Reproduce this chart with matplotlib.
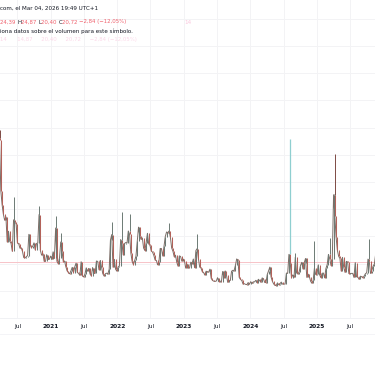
import pandas as pd
import matplotlib
matplotlib.use("Agg")
import matplotlib.pyplot as plt
import matplotlib.dates as mdates

# weekly closes (Friday), first value = week of 2020-03-13
closes_2020 = [57.83, 66.04, 65.54, 46.80, 41.67, 38.15, 35.93, 37.19, 27.98, 31.89,
               28.16, 27.51, 24.52, 36.09, 35.12, 34.73, 27.68, 27.29, 25.68, 25.84,
               24.46, 22.21, 22.05, 22.54, 22.96, 30.75, 26.87, 25.83, 26.38, 27.63,
               25.00, 27.41, 27.55, 38.02, 24.86, 23.10, 23.70, 20.84, 20.79, 23.31,
               21.57, 21.53, 22.75]
closes_2021 = [21.56, 24.34, 21.91, 33.09, 20.87, 19.97, 22.05, 27.95, 24.66, 20.69,
               20.95, 18.86, 17.33, 16.69, 16.25, 17.33, 18.61, 16.69, 18.81, 20.15,
               16.76, 16.42, 15.65, 20.70, 15.62, 15.07, 16.18, 18.45, 17.20, 18.24,
               16.15, 15.45, 18.56, 16.39, 16.41, 20.95, 20.81, 17.75, 21.15, 18.77,
               16.30, 15.43, 16.26, 16.48, 16.29, 17.91, 28.62, 30.67, 18.69, 21.57,
               17.96, 17.22]
closes_2022 = [18.76, 19.19, 28.85, 27.66, 23.22, 27.36, 27.75, 27.59, 31.98, 30.75,
               23.87, 20.81, 19.63, 21.16, 22.70, 28.21, 33.40, 30.19, 28.87, 29.43,
               25.72, 24.79, 27.75, 31.13, 27.23, 26.70, 24.64, 24.23, 23.03, 21.33,
               21.15, 19.53, 20.60, 25.56, 25.47, 22.79, 26.30, 29.92, 31.62, 31.36,
               32.02, 29.69, 25.75, 24.55, 22.52, 23.12, 20.50, 19.06, 22.83, 22.62,
               20.87, 21.67]
closes_2023 = [21.13, 18.35, 19.85, 18.51, 18.33, 20.53, 20.02, 21.67, 18.49, 24.80,
               25.51, 21.74, 18.70, 18.40, 17.07, 16.77, 15.78, 17.19, 17.03, 16.81,
               17.95, 14.60, 13.83, 13.54, 13.44, 13.59, 14.83, 13.34, 13.60, 13.33,
               17.10, 14.84, 17.30, 15.68, 13.09, 13.84, 13.79, 17.20, 17.52, 17.45,
               19.32, 21.71, 21.27, 14.91, 14.17, 13.80, 12.46, 12.63, 12.35, 12.28,
               13.03, 12.45]
closes_2024 = [13.35, 12.70, 13.30, 13.26, 13.85, 12.93, 14.24, 13.75, 13.11, 14.74,
               14.41, 13.06, 13.01, 16.03, 17.31, 18.71, 15.03, 13.49, 12.55, 11.99,
               11.93, 12.92, 12.22, 12.66, 13.20, 12.44, 12.48, 12.46, 16.52, 16.39,
               23.39, 20.37, 14.80, 15.86, 15.00, 22.38, 16.56, 16.15, 16.96, 19.21,
               20.46, 18.03, 20.33, 21.88, 14.94, 16.14, 15.24, 13.51, 12.77, 13.81,
               18.36, 15.95]
closes_2025 = [16.13, 19.54, 15.97, 14.85, 16.43, 16.54, 14.77, 18.21, 19.63, 23.37,
               21.77, 19.28, 21.65, 45.31, 37.56, 29.65, 24.84, 22.68, 21.90, 17.24,
               22.29, 18.57, 16.77, 20.82, 20.62, 16.32, 16.38, 16.40, 16.41, 14.93,
               20.38, 15.15, 15.09, 14.22, 15.36, 15.18, 14.76, 15.45, 16.29, 16.65,
               21.66, 20.78, 16.37, 17.44, 19.08, 19.83, 23.43]

# intraday spikes (week ending, high, direction of the spike day)
spike_weeks = ["2020-03-20", "2020-03-27", "2020-06-12", "2020-10-30", "2021-01-29",
               "2021-02-26", "2021-12-03", "2022-01-28", "2022-03-11", "2022-10-14",
               "2023-03-17", "2024-08-09", "2024-09-06", "2024-12-20", "2025-03-14",
               "2025-04-04", "2025-04-11", "2025-10-17", "2025-11-21"]
spike_highs = [85.47, 69.0, 44.44, 41.16, 37.51, 31.16, 35.32, 38.94, 38.22, 34.88,
               30.81, 65.73, 23.76, 28.32, 29.57, 45.6, 60.13, 28.99, 28.27]
spike_up = [False, False, True, True, True, True, True, True, True, True,
            True, True, True, True, True, True, False, True, True]

last_close = 20.72
tick_labels = ["Jul", "2021", "Jul", "2022", "Jul", "2023", "Jul", "2024", "Jul", "2025", "Jul"]
tick_dates = ["2020-07-01", "2021-01-01", "2021-07-01", "2022-01-01", "2022-07-01", "2023-01-01",
              "2023-07-01", "2024-01-01", "2024-07-01", "2025-01-01", "2025-07-01"]

closes = closes_2020 + closes_2021 + closes_2022 + closes_2023 + closes_2024 + closes_2025
df = pd.DataFrame({"close": closes},
                  index=pd.date_range("2020-03-13", periods=len(closes), freq="W-FRI"))
df["open"] = df["close"].shift(1)
df = df.iloc[1:]
df["hi"] = df[["open", "close"]].max(axis=1)
df["lo"] = df[["open", "close"]].min(axis=1)

UP = "#6c7a74"
DOWN = "#b3625a"

fig = plt.figure(figsize=(3.75, 3.66), dpi=100)
ax = fig.add_axes([0, 48 / 366, 1, 318 / 366])

x = mdates.date2num(df.index.to_pydatetime()) - 2.5
colors = [UP if c >= o else DOWN for o, c in zip(df["open"], df["close"])]
ax.plot(x, df["close"], color="#7c6d66", lw=0.7, zorder=3)
ax.vlines(x, df["lo"], df["hi"], colors=colors, linewidth=0.75, zorder=4)

sx = mdates.date2num(pd.to_datetime(spike_weeks).to_pydatetime()) - 2.5
for xx, h, up, d in zip(sx, spike_highs, spike_up, spike_weeks):
    base = df.loc[pd.Timestamp(d), "hi"]
    if d == "2024-08-09":
        col, lw = "#8fcfd0", 0.9
    else:
        col, lw = (UP if up else "#7d4a44"), 0.7
    ax.vlines(xx, base, h, colors=col, linewidth=lw, zorder=4)

ax.axhline(last_close, color="#f7c3c8", lw=0.7, zorder=2)

ax.set_xlim(mdates.datestr2num("2020-03-27"), mdates.datestr2num("2025-11-15"))
ax.set_ylim(0, 116.9)
ax.set_yticks(range(10, 120, 10))
ax.set_yticklabels([])
ax.set_xticks(mdates.datestr2num(tick_dates))
ax.set_xticklabels(tick_labels)
ax.tick_params(axis="both", length=0)
ax.tick_params(axis="x", pad=4.5, labelsize=4.2, labelcolor="#131722")
for lab in ax.get_xticklabels():
    if lab.get_text() != "Jul":
        lab.set_fontweight("bold")
ax.grid(True, color="#f3f3f5", lw=0.7, zorder=0)
for s in ["top", "right", "left"]:
    ax.spines[s].set_visible(False)
ax.spines["bottom"].set_color("#eeeff2")
ax.spines["bottom"].set_linewidth(0.6)
fig.add_artist(plt.Line2D([0, 1], [1 - 334 / 366] * 2, color="#f2f3f6", lw=0.6))

# header text
renderer = fig.canvas.get_renderer()


def chain(px, py, parts, size=4.1, gap=0.0):
    cur = px
    for s, color, alpha in parts:
        t = fig.text(cur / 375, 1 - py / 366, s, color=color, fontsize=size,
                     ha="left", va="center", alpha=alpha)
        cur = t.get_window_extent(renderer=renderer).x1 + gap


dark = "#131722"
red = "#f0606c"
chain(0, 8, [("com, el Mar 04, 2026 19:49 UTC+1", dark, 1)])
chain(0, 22, [("24,39 ", red, 1), ("H", dark, 1), ("24,87 ", red, 1), ("L", dark, 1),
              ("20,40 ", red, 1), ("C", dark, 1), ("20,72 ", red, 1),
              ("\u22122,84 (\u221212,05%)", red, 1)], size=3.9)
chain(184, 22, [("14", "#f8a3c8", 0.6)])
chain(0, 31, [("iona datos sobre el volumen para este s\u00edmbolo.", dark, 1)])
chain(0, 40, [("14      14,87     20,40     20,72     \u22122,84 (\u221212,05%)", "#f9b8d6", 0.55)],
      size=3.9)

fig.savefig("out.png", dpi=100)
